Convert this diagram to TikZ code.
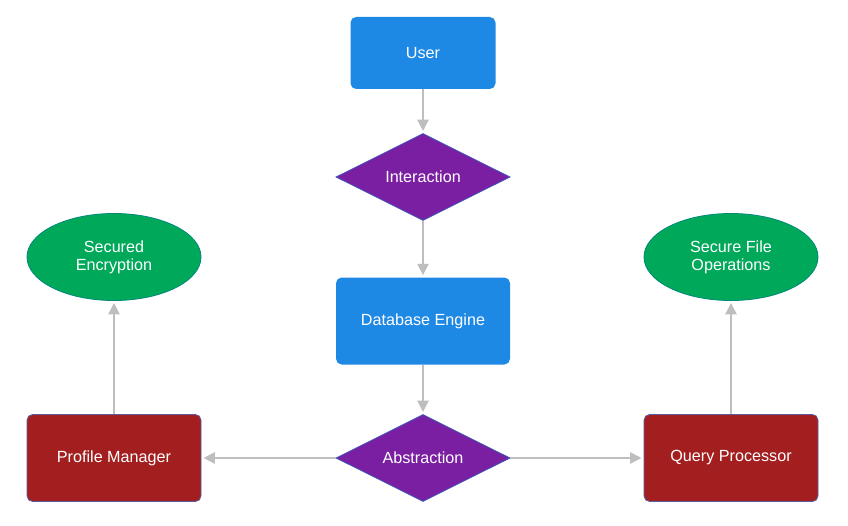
\documentclass[tikz,border=0pt]{standalone}
\usepackage{fontspec}
\setmainfont{Liberation Sans}
\usepackage{tikz}
\usetikzlibrary{shapes, shapes.geometric, arrows.meta, positioning}
\definecolor{userblue}{RGB}{30, 136, 229}
\definecolor{decpurple}{RGB}{123, 31, 162}
\definecolor{decedge}{RGB}{63, 81, 181}
\definecolor{outgreen}{RGB}{0, 168, 90}
\definecolor{outedge}{RGB}{0, 137, 123}
\definecolor{modred}{RGB}{163, 31, 31}
\definecolor{modedge}{RGB}{92, 92, 160}
\definecolor{flowgray}{RGB}{190, 190, 190}

\begin{document}
\begin{tikzpicture}[
    every node/.style={text=white, font=\fontsize{11.5}{13}\selectfont, align=center},
    procbox/.style={fill=userblue, rounded corners=4pt, minimum width=4.35cm, minimum height=2.175cm},
    decision/.style={diamond, draw=decedge, line width=0.6pt, fill=decpurple, aspect=2, inner sep=0pt, minimum width=4.35cm, minimum height=2.175cm},
    outcome/.style={ellipse, draw=outedge, line width=0.6pt, fill=outgreen, minimum width=4.35cm, minimum height=2.175cm},
    module/.style={draw=modedge, line width=0.6pt, fill=modred, rounded corners=4pt, minimum width=4.35cm, minimum height=2.175cm},
    flow/.style={draw=flowgray, line width=1pt, -{Triangle[width=8pt, length=8pt]}, shorten >=1.5pt}
  ]
  \useasboundingbox (0, 0) rectangle (21.2, 13.125);

  % Top flow
  \node[procbox, minimum width=3.625cm, minimum height=1.8cm] (user) at (10.575, 11.8) {User};
  \node[decision] (interaction) at (10.575, 8.7) {Interaction};
  \node[procbox] (engine) at (10.575, 5.1) {Database Engine};
  \node[decision] (abstraction) at (10.575, 1.675) {Abstraction};

  % Modules
  \node[module] (profile) at (2.85, 1.675) {Profile Manager};
  \node[module] (query) at (18.275, 1.675) {Query Processor};

  % Outcomes
  \node[outcome] (encryption) at (2.85, 6.7) {Secured\\Encryption};
  \node[outcome] (fileops) at (18.275, 6.7) {Secure File\\Operations};

  % Connectors
  \draw[flow] (user) -- (interaction);
  \draw[flow] (interaction) -- (engine);
  \draw[flow] (engine) -- (abstraction);
  \draw[flow] (abstraction) -- (profile);
  \draw[flow] (abstraction) -- (query);
  \draw[flow] (profile) -- (encryption);
  \draw[flow] (query) -- (fileops);
\end{tikzpicture}
\end{document}
